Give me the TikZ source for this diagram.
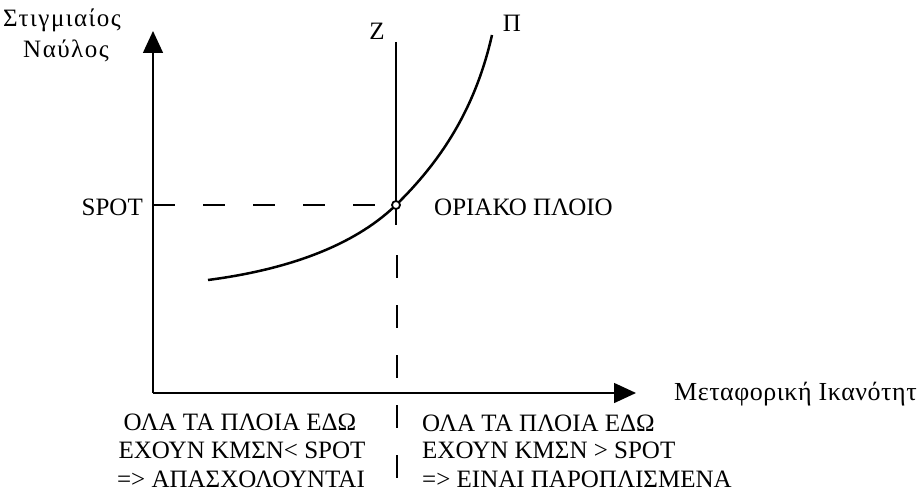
\documentclass[tikz,border=0pt]{standalone}
\usepackage{fontspec}
\setmainfont{Liberation Serif}
\newfontfamily\lsfont[LetterSpace=6]{Liberation Serif}
\newfontfamily\lsfontb[LetterSpace=2]{Liberation Serif}
\usetikzlibrary{arrows.meta}
\begin{document}
\begin{tikzpicture}[x=1pt,y=-1pt,
  lbl/.style={inner sep=0pt,font=\fontsize{25}{28.5}\selectfont},
  axis/.style={line width=1.5pt,-{Triangle[length=22pt,width=20pt]}},
  dsh/.style={line width=2.8pt,dash pattern=on 22pt off 28pt}]
\useasboundingbox[fill=white] (0,0) rectangle (922,495);
% axes
\coordinate (O) at (153,393);
\coordinate (ytip) at (153,31);
\coordinate (xtip) at (636,393);
\draw[axis] (O) -- (ytip);
\draw[axis] (O) -- (xtip);
% Z line
\coordinate (ztop) at (396,42);
\coordinate (zmid) at (396,225);
\coordinate (zdash) at (397,255);
\coordinate (zbot) at (397,495);
\draw[line width=2pt] (ztop) -- (zmid);
\draw[line width=2.2pt,dash pattern=on 23pt off 27pt] (zdash) -- (zbot);
% spot dashed
\coordinate (P) at (396,205);
\coordinate (spotl) at (153,205);
\draw[dsh] (spotl) -- (P);
% curve
\coordinate (c0) at (208,280);
\coordinate (c2) at (492,35);
\draw[line width=2.5pt] (c0) .. controls (300,268) and (360,240) .. (P) .. controls (440,162) and (475,110) .. (c2);
\node[circle,draw,line width=1.8pt,fill=white,minimum size=8pt,inner sep=0pt] (pt) at (P) {};
% labels
\node[lbl,anchor=base,font=\fontsize{25}{28}\lsfont] (st) at (62,27) {Στιγμιαίος};
\node[lbl,anchor=base,font=\fontsize{25}{28}\lsfont] (na) at (66,58) {Ναύλος};
\node[lbl,anchor=base] (z) at (377,40) {Z};
\node[lbl,anchor=base] (pi) at (512,32) {Π};
\node[lbl,anchor=base east] (spot) at (143,215) {SPOT};
\node[lbl,anchor=base west] (oriako) at (434,215) {ΟΡΙΑΚΟ ΠΛΟΙΟ};
\node[lbl,anchor=base west,font=\fontsize{26}{28}\lsfontb] (mi) at (674,400) {Μεταφορική Ικανότητ};
\node[lbl,anchor=base] (l1) at (240,430) {ΟΛΑ ΤΑ ΠΛΟΙΑ ΕΔΩ};
\node[lbl,anchor=base] (l2) at (242,458) {ΕΧΟΥΝ ΚΜΣΝ< SPOT};
\node[lbl,anchor=base] (l3) at (241,487) {=> ΑΠΑΣΧΟΛΟΥΝΤΑΙ};
\node[lbl,anchor=base west] (r1) at (422,431) {ΟΛΑ ΤΑ ΠΛΟΙΑ ΕΔΩ};
\node[lbl,anchor=base west] (r2) at (422,458) {ΕΧΟΥΝ ΚΜΣΝ > SPOT};
\node[lbl,anchor=base west] (r3) at (422,487) {=> ΕΙΝΑΙ ΠΑΡΟΠΛΙΣΜΕΝΑ};
\end{tikzpicture}
\end{document}
